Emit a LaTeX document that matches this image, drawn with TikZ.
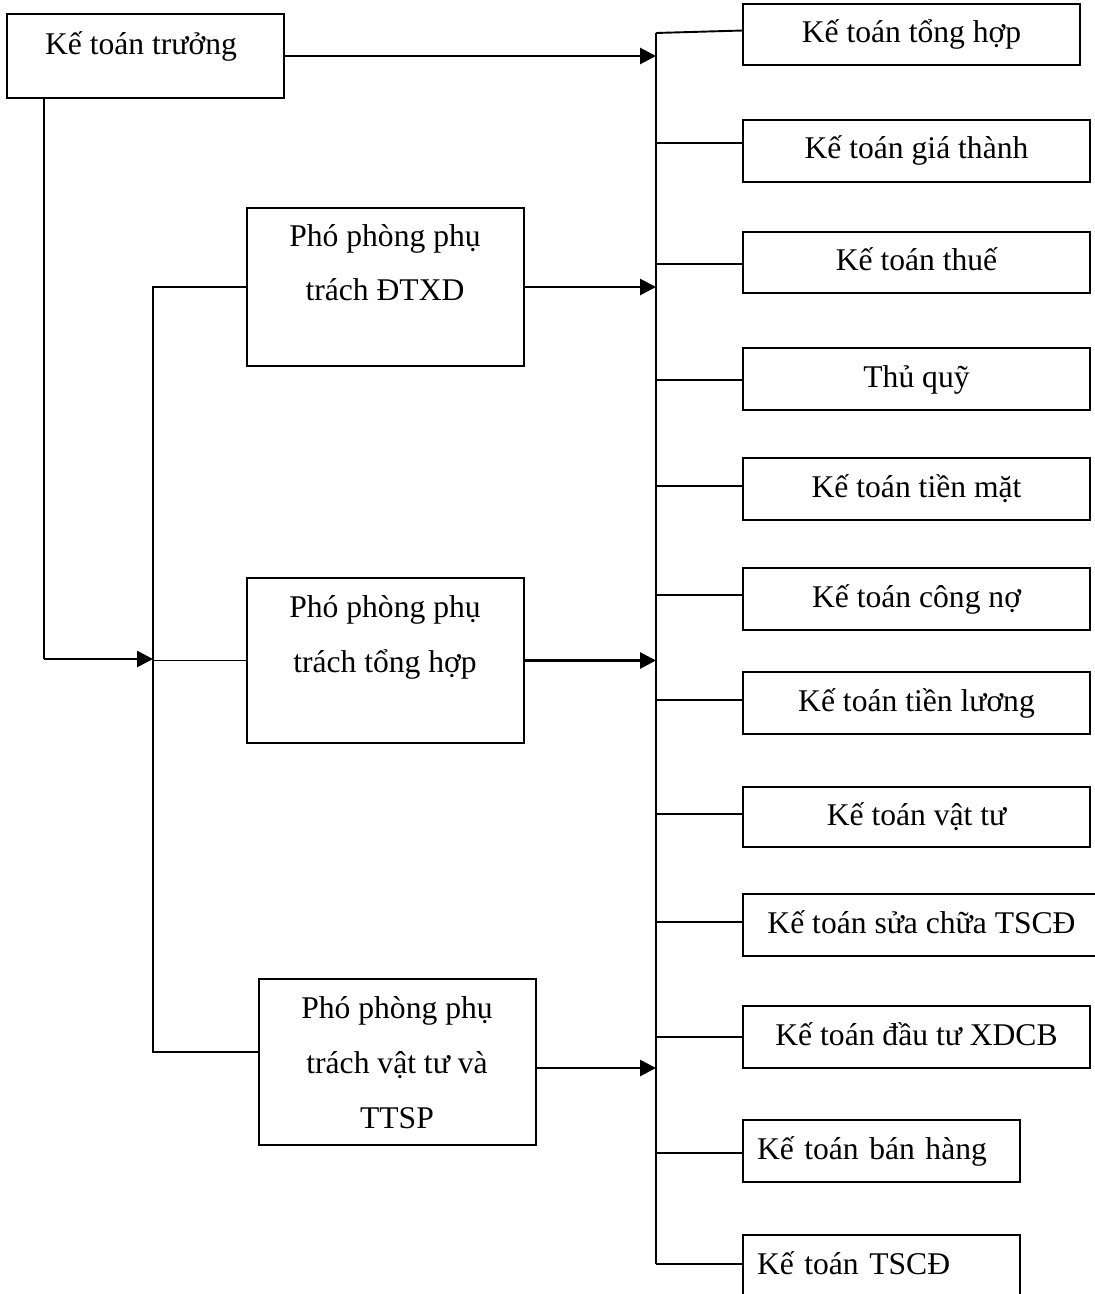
\documentclass[tikz,border=0pt]{standalone}
\usepackage{fontspec}
\setmainfont{Liberation Serif}
\usetikzlibrary{arrows.meta,calc}
\begin{document}
\begin{tikzpicture}[x=0.5pt,y=-0.5pt,
  every node/.style={font=\fontsize{15.8pt}{27.5pt}\selectfont},
  unitbox/.style={draw, line width=1.1pt, rectangle, anchor=north west,
    inner sep=0pt, outer sep=0pt, text height=11pt, text depth=3pt},
  leftbox/.style={unitbox, inner xsep=7pt, text width=124.5pt, align=left},
  headbox/.style={draw, line width=1.1pt, rectangle, anchor=north west,
    inner sep=0pt, outer sep=0pt},
  lbl/.style={anchor=base, inner sep=0pt, align=center},
  link/.style={line width=0.95pt},
  feed/.style={line width=1.4pt, -{Triangle[length=8pt,width=8pt]}},
]
\useasboundingbox (0,0) rectangle (1094,1294);

% management boxes (left side); label anchors sit on the last text line
\node[headbox, minimum width=138.5pt, minimum height=42pt] (kt) at (7,14) {};
\node[lbl] (ktt) at (141,55) {Kế toán trưởng};

\node[headbox, minimum width=138.5pt, minimum height=79pt] (p1) at (247,208) {};
\node[lbl] (p1t) at (385,301) {Phó phòng phụ\\trách ĐTXD};

\node[headbox, minimum width=138.5pt, minimum height=82.5pt] (p2) at (247,578) {};
\node[lbl] (p2t) at (385,672) {Phó phòng phụ\\trách tổng hợp};

\node[headbox, minimum width=138.5pt, minimum height=83pt] (p3) at (259,979) {};
\node[lbl] (p3t) at (397,1128) {Phó phòng phụ\\trách vật tư và\\TTSP};

% accounting units (right column)
\node[unitbox, minimum width=168.5pt, minimum height=30.5pt] (r1) at (743,4) {Kế toán tổng hợp};
\node[unitbox, minimum width=173.5pt, minimum height=31pt] (r2) at (743,120) {Kế toán giá thành};
\node[unitbox, minimum width=173.5pt, minimum height=30.5pt] (r3) at (743,232) {Kế toán thuế};
\node[unitbox, minimum width=173.5pt, minimum height=31pt] (r4) at (743,348) {Thủ quỹ};
\node[unitbox, minimum width=173.5pt, minimum height=31pt] (r5) at (743,458) {Kế toán tiền mặt};
\node[unitbox, minimum width=173.5pt, minimum height=31pt] (r6) at (743,568) {Kế toán công nợ};
\node[unitbox, minimum width=173.5pt, minimum height=31pt] (r7) at (743,672) {Kế toán tiền lương};
\node[unitbox, minimum width=173.5pt, minimum height=30pt] (r8) at (743,787) {Kế toán vật tư};
\node[unitbox, minimum width=178.5pt, minimum height=31pt] (r9) at (743,894) {Kế toán sửa chữa TSCĐ};
\node[unitbox, minimum width=173.5pt, minimum height=31pt] (r10) at (743,1006) {Kế toán đầu tư XDCB};
\node[leftbox, minimum width=138.5pt, minimum height=31pt] (r11) at (743,1120) {Kế toán bán hàng};
\node[leftbox, minimum width=138.5pt, minimum height=31pt] (r12) at (743,1235) {Kế toán TSCĐ};

% right distribution bus
\coordinate (rtop) at (656,33);
\coordinate (rbot) at (656,1264);
\draw[link] (rtop) -- (rbot);
\draw[link] (rtop) -- ($(r1.west)+(0,-4)$);
\foreach \k/\yy in {2/143,3/264,4/380,5/486,6/595,7/700,8/814,9/922,10/1037,11/1153,12/1264}{
  \coordinate (c\k) at (656,\yy);
  \draw[link] (c\k) -- (c\k -| r\k.west);
}

% left bus to the deputy heads
\coordinate (lbus) at (153,0);
\coordinate (p3in) at ($(p3.west)+(0,-10)$);
\draw[link] (p1.west) -- (p1.west -| lbus) -- (p3in -| lbus) -- (p3in);
\draw[link] (p2.west -| lbus) -- (p2.west);

% chief accountant links
\coordinate (kdrop) at ($(kt.south west)+(37,0)$);
\coordinate (kbend) at (44,659);
\draw[link] (kdrop) -- (kbend);
\draw[feed] (kbend) -- (kbend -| lbus);
\draw[feed] (kt.east) -- (kt.east -| rtop);

% deputy heads feeding the units
\draw[feed] (p1.east) -- (p1.east -| rtop);
\draw[feed] (p2.east) -- (p2.east -| rtop);
\coordinate (p3out) at ($(p3.east)+(0,6)$);
\draw[feed] (p3out) -- (p3out -| rtop);
\end{tikzpicture}
\end{document}
